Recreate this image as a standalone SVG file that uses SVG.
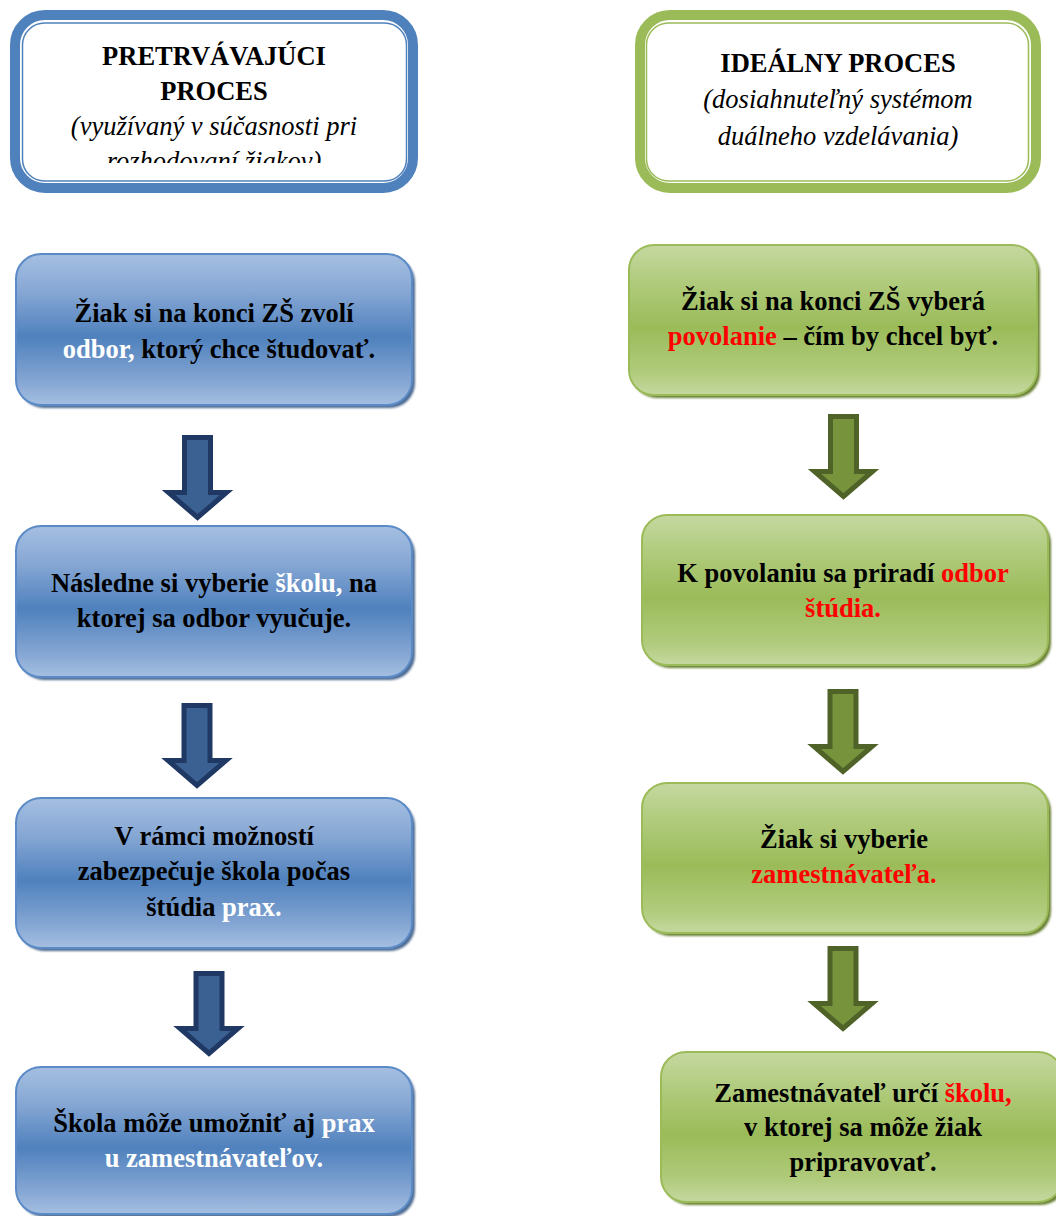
<svg xmlns="http://www.w3.org/2000/svg" width="1056" height="1216" viewBox="0 0 1056 1216">
<style>
.t{font-family:'Liberation Serif','DejaVu Serif',serif;font-size:26.5px;font-weight:bold;fill:#000;text-anchor:middle}
.it{font-family:'Liberation Serif','DejaVu Serif',serif;font-size:26.5px;font-style:italic;fill:#000;text-anchor:middle}
.w{fill:#fff}
.r{fill:#ff0000}
.bbox{fill:url(#gb);stroke:#5b8bc7;stroke-width:2}
.gbox{fill:url(#gg);stroke:#9bbb59;stroke-width:2}
.bsh{fill:#4d6a92;filter:url(#blur)}
.gsh{fill:#6b8236;filter:url(#blur)}
.barr{fill:#3a6192;stroke:#1f3864;stroke-width:5;stroke-linejoin:miter}
.garr{fill:#77933c;stroke:#4f6228;stroke-width:5;stroke-linejoin:miter}
</style>
<defs>
<linearGradient id="gb" x1="0" y1="0" x2="0" y2="1">
<stop offset="0" stop-color="#a5bfe1"/>
<stop offset="0.25" stop-color="#86a7d4"/>
<stop offset="0.55" stop-color="#4f81bd"/>
<stop offset="0.85" stop-color="#86a7d4"/>
<stop offset="1" stop-color="#a5bfe1"/>
</linearGradient>
<linearGradient id="gg" x1="0" y1="0" x2="0" y2="1">
<stop offset="0" stop-color="#c5d8a0"/>
<stop offset="0.25" stop-color="#b0cb7c"/>
<stop offset="0.55" stop-color="#9bbb59"/>
<stop offset="0.85" stop-color="#b0cb7c"/>
<stop offset="1" stop-color="#c5d8a0"/>
</linearGradient>
<filter id="blur" x="-5%" y="-5%" width="110%" height="115%"><feGaussianBlur stdDeviation="1"/></filter>
<clipPath id="hclip"><rect x="22" y="22" width="386" height="141"/></clipPath>
<path id="arrow" d="M -13 0 H 13 V 55 H 29 L 0 80 L -29 55 H -13 Z"/>
</defs>

<g id="header-left">
<rect x="15" y="15" width="398" height="173" rx="30" fill="#fff" stroke="#4f81bd" stroke-width="10"/>
<rect x="22.5" y="23" width="384" height="158" rx="22" fill="none" stroke="#4f81bd" stroke-width="1.5"/>
<text class="t" x="214" y="65">PRETRVÁVAJÚCI</text>
<text class="t" x="214" y="100">PROCES</text>
<g clip-path="url(#hclip)">
<text class="it" x="214" y="135">(využívaný v súčasnosti pri</text>
<text class="it" x="214" y="170">rozhodovaní žiakov)</text>
</g>
</g>

<g id="header-right">
<rect x="640" y="15" width="396" height="173" rx="30" fill="#fff" stroke="#9bbb59" stroke-width="10"/>
<rect x="646.5" y="23" width="382" height="158" rx="22" fill="none" stroke="#9bbb59" stroke-width="1.5"/>
<text class="t" x="838" y="72">IDEÁLNY PROCES</text>
<text class="it" x="838" y="108">(dosiahnuteľný systémom</text>
<text class="it" x="838" y="145">duálneho vzdelávania)</text>
</g>

<g id="b1">
<rect class="bsh" x="19" y="257" width="396" height="151" rx="25"/>
<rect class="bbox" x="16" y="254" width="396" height="151" rx="25"/>
<text class="t" x="214" y="322">Žiak si na konci ZŠ zvolí</text>
<text class="t" x="219" y="358"><tspan class="w">odbor,</tspan> ktorý chce študovať.</text>
</g>

<g id="b2">
<rect class="bsh" x="19" y="529" width="396" height="151" rx="25"/>
<rect class="bbox" x="16" y="526" width="396" height="151" rx="25"/>
<text class="t" x="214" y="592">Následne si vyberie <tspan class="w">školu,</tspan> na</text>
<text class="t" x="214" y="627">ktorej sa odbor vyučuje.</text>
</g>

<g id="b3">
<rect class="bsh" x="19" y="801" width="396" height="150" rx="25"/>
<rect class="bbox" x="16" y="798" width="396" height="150" rx="25"/>
<text class="t" x="214" y="845">V rámci možností</text>
<text class="t" x="214" y="880">zabezpečuje škola počas</text>
<text class="t" x="214" y="916">štúdia <tspan class="w">prax.</tspan></text>
</g>

<g id="b4">
<rect class="bsh" x="19" y="1070" width="396" height="147" rx="25"/>
<rect class="bbox" x="16" y="1067" width="396" height="147" rx="25"/>
<text class="t" x="214" y="1132">Škola môže umožniť aj <tspan class="w">prax</tspan></text>
<text class="t w" x="214" y="1167">u zamestnávateľov.</text>
</g>

<g id="g1">
<rect class="gsh" x="632" y="248" width="408" height="150" rx="25"/>
<rect class="gbox" x="629" y="245" width="408" height="150" rx="25"/>
<text class="t" x="833" y="310">Žiak si na konci ZŠ vyberá</text>
<text class="t" x="833" y="345"><tspan class="r">povolanie</tspan> – čím by chcel byť.</text>
</g>

<g id="g2">
<rect class="gsh" x="645" y="518" width="406" height="150" rx="25"/>
<rect class="gbox" x="642" y="515" width="406" height="150" rx="25"/>
<text class="t" x="843" y="582">K povolaniu sa priradí <tspan class="r">odbor</tspan></text>
<text class="t r" x="843" y="617">štúdia.</text>
</g>

<g id="g3">
<rect class="gsh" x="645" y="786" width="406" height="150" rx="25"/>
<rect class="gbox" x="642" y="783" width="406" height="150" rx="25"/>
<text class="t" x="844" y="848">Žiak si vyberie</text>
<text class="t r" x="844" y="883">zamestnávateľa.</text>
</g>

<g id="g4">
<rect class="gsh" x="664" y="1055" width="402" height="150" rx="25"/>
<rect class="gbox" x="661" y="1052" width="402" height="150" rx="25"/>
<text class="t" x="863" y="1102">Zamestnávateľ určí <tspan class="r">školu,</tspan></text>
<text class="t" x="863" y="1136">v ktorej sa môže žiak</text>
<text class="t" x="863" y="1171">pripravovať.</text>
</g>

<g id="connectors">
<use href="#arrow" class="barr" transform="translate(197.5,437.5)"/>
<use href="#arrow" class="barr" transform="translate(197,705.5)"/>
<use href="#arrow" class="barr" transform="translate(209,973.5)"/>
<use href="#arrow" class="garr" transform="translate(843.5,416.5)"/>
<use href="#arrow" class="garr" transform="translate(843,691.5)"/>
<use href="#arrow" class="garr" transform="translate(843,948.5)"/>
</g>
</svg>
